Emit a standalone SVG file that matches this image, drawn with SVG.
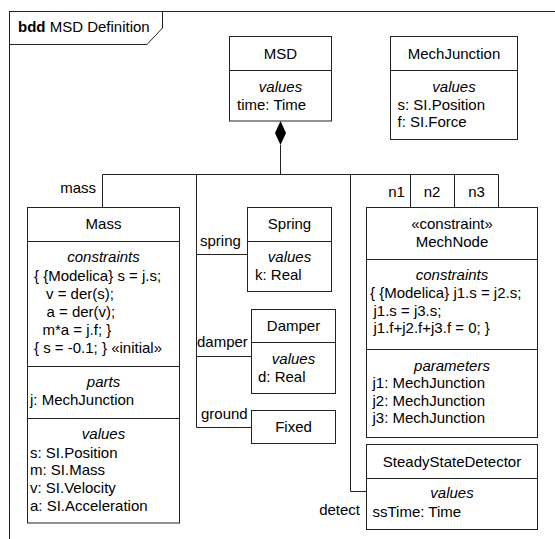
<svg xmlns="http://www.w3.org/2000/svg" width="555" height="539" viewBox="0 0 555 539">
  <style>
    text { font-family: "Liberation Sans", Arial, sans-serif; font-size: 15px; fill: #000; }
    .c { text-anchor: middle; }
    .e { text-anchor: end; }
    .i { font-style: italic; }
    .b { font-weight: bold; }
    .box { fill: #fff; stroke: #222; stroke-width: 1; }
    .div { stroke: #222; stroke-width: 1; fill: none; }
    .wire { stroke: #222; stroke-width: 1; fill: none; }
  </style>
  <rect width="555" height="539" fill="#fff"/>

  <!-- diagram frame with name tab -->
  <g id="frame">
    <rect x="9.5" y="11.5" width="560" height="540" fill="none" stroke="#222"/>
    <path d="M9.5,44.5 H147 L162.5,28 V11.5" fill="none" stroke="#222"/>
    <text x="18" y="32"><tspan class="b">bdd</tspan> MSD Definition</text>
  </g>

  <!-- composition connectors -->
  <g id="connectors">
    <polygon points="280.5,121 286,133 280.5,145 275,133" fill="#000"/>
    <path class="wire" d="M280.5,145 V174.5"/>
    <path class="wire" d="M102.5,174.5 H498.5"/>
    <path class="wire" d="M102.5,174.5 V207.5"/>
    <path class="wire" d="M196.5,174.5 V427.5 H251.5"/>
    <path class="wire" d="M196.5,254.5 H247.5"/>
    <path class="wire" d="M196.5,356.5 H251.5"/>
    <path class="wire" d="M350.5,174.5 V491.5 H366.5"/>
    <path class="wire" d="M410.5,174.5 V207.5"/>
    <path class="wire" d="M454.5,174.5 V207.5"/>
    <path class="wire" d="M498.5,174.5 V207.5"/>
    <text class="e" x="96" y="193">mass</text>
    <text x="200" y="246">spring</text>
    <text x="197" y="347">damper</text>
    <text x="201" y="419">ground</text>
    <text class="c" x="396.5" y="197">n1</text>
    <text class="c" x="432" y="197">n2</text>
    <text class="c" x="476.5" y="197">n3</text>
    <text class="e" x="360" y="515">detect</text>
  </g>

  <g id="MSD">
    <rect class="box" x="229.5" y="36.5" width="102" height="84.5"/>
    <path class="div" d="M229.5,70.5 H331.5"/>
    <text class="c" x="280.5" y="59">MSD</text>
    <text class="c i" x="280.5" y="92">values</text>
    <text x="237" y="110">time: Time</text>
  </g>

  <g id="MechJunction">
    <rect class="box" x="390.5" y="36.5" width="127" height="103"/>
    <path class="div" d="M390.5,70.5 H517.5"/>
    <text class="c" x="454" y="58.5">MechJunction</text>
    <text class="c i" x="454" y="91.5">values</text>
    <text x="397.5" y="109.5">s: SI.Position</text>
    <text x="397.5" y="127">f: SI.Force</text>
  </g>

  <g id="Mass">
    <rect class="box" x="27.5" y="207.5" width="152" height="315.5"/>
    <path class="div" d="M27.5,241.5 H179.5 M27.5,366.5 H179.5 M27.5,418.5 H179.5"/>
    <text class="c" x="103.5" y="228.5">Mass</text>
    <text class="c i" x="103.5" y="262">constraints</text>
    <text x="34" y="281">{ {Modelica} s = j.s;</text>
    <text x="46" y="299">v = der(s);</text>
    <text x="46.5" y="317">a = der(v);</text>
    <text x="42.5" y="335">m*a = j.f; }</text>
    <text x="34" y="352.5">{ s = -0.1; } «initial»</text>
    <text class="c i" x="103.5" y="387">parts</text>
    <text x="30" y="405">j: MechJunction</text>
    <text class="c i" x="103.5" y="439">values</text>
    <text x="30" y="457.5">s: SI.Position</text>
    <text x="30" y="475">m: SI.Mass</text>
    <text x="30" y="493">v: SI.Velocity</text>
    <text x="30" y="510.5">a: SI.Acceleration</text>
  </g>

  <g id="Spring">
    <rect class="box" x="247.5" y="207.5" width="84" height="84"/>
    <path class="div" d="M247.5,241.5 H331.5"/>
    <text class="c" x="289.5" y="228.5">Spring</text>
    <text class="c i" x="289.5" y="262">values</text>
    <text x="255" y="280">k: Real</text>
  </g>

  <g id="Damper">
    <rect class="box" x="251.5" y="309.5" width="84" height="84"/>
    <path class="div" d="M251.5,342.5 H335.5"/>
    <text class="c" x="293.5" y="331">Damper</text>
    <text class="c i" x="293.5" y="364">values</text>
    <text x="258" y="382">d: Real</text>
  </g>

  <g id="Fixed">
    <rect class="box" x="251.5" y="410.5" width="84" height="33"/>
    <text class="c" x="293.5" y="432">Fixed</text>
  </g>

  <g id="MechNode">
    <rect class="box" x="366.5" y="207.5" width="171" height="230"/>
    <path class="div" d="M366.5,259.5 H537.5 M366.5,349.5 H537.5"/>
    <text class="c" x="452" y="228.5">«constraint»</text>
    <text class="c" x="452" y="247">MechNode</text>
    <text class="c i" x="452" y="280">constraints</text>
    <text x="370" y="298">{ {Modelica} j1.s = j2.s;</text>
    <text x="373.5" y="315.5">j1.s = j3.s;</text>
    <text x="373.5" y="333">j1.f+j2.f+j3.f = 0; }</text>
    <text class="c i" x="452" y="370.5">parameters</text>
    <text x="372.5" y="388">j1: MechJunction</text>
    <text x="372.5" y="405.5">j2: MechJunction</text>
    <text x="372.5" y="423">j3: MechJunction</text>
  </g>

  <g id="SteadyStateDetector">
    <rect class="box" x="366.5" y="444.5" width="171" height="85"/>
    <path class="div" d="M366.5,478.5 H537.5"/>
    <text class="c" x="452" y="466.5">SteadyStateDetector</text>
    <text class="c i" x="452" y="498">values</text>
    <text x="372.5" y="517">ssTime: Time</text>
  </g>
</svg>
